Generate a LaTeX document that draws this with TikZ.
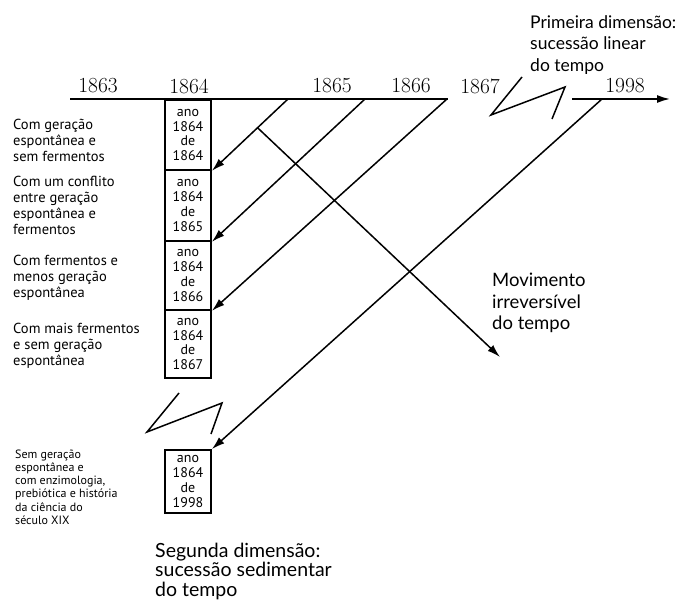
\documentclass[tikz,border=0pt]{standalone}
\usepackage{fontspec}
\newfontfamily\notefont{PT Sans}
\newfontfamily\dimfont{Lato}
\usetikzlibrary{arrows.meta,calc}
\tikzset{
    ano/.style={draw,line width=1.7pt,minimum width=46pt,inner sep=0pt,align=center,font=\notefont\fontsize{14}{14.7}\selectfont},
    nota/.style={anchor=west,align=left,inner sep=0pt,font=\notefont\fontsize{14.5}{16}\selectfont},
    dim/.style={anchor=west,align=left,inner sep=0pt,font=\dimfont\fontsize{17.5}{21.5}\selectfont},
    seta/.style={line width=1.5pt,-{Latex[length=13pt,width=8pt]}},
    zig/.style={line width=1.5pt,line join=miter},
}
\begin{document}
\begin{tikzpicture}[x=1pt,y=-1pt]
    \useasboundingbox (0,0) rectangle (693,601);
    % linha do tempo
    \draw[line width=2.4pt] (70,99) -- (448,99);
    \draw[seta,line width=1.7pt] (572,99) -- (670,99);
    \foreach \a/\x in {1863/98,1864/189,1865/332,1866/411,1867/480,1998/625} {
        \node[font=\fontsize{21.5}{22}\selectfont] (y\a) at (\x,86) {\a};
    }
    \coordinate (t1) at (288,99);
    \coordinate (t2) at (365,99);
    \coordinate (t3) at (447,99);
    \coordinate (t4) at (602,99);
    % caixas
    \node[ano,minimum height=70pt] (b1) at (188,135) {ano\\1864\\de\\1864};
    \node[ano,minimum height=71pt] (b2) at (188,205.5) {ano\\1864\\de\\1865};
    \node[ano,minimum height=69pt] (b3) at (188,275.5) {ano\\1864\\de\\1866};
    \node[ano,minimum height=68pt] (b4) at (188,344) {ano\\1864\\de\\1867};
    \node[ano,minimum height=63pt] (b5) at (188,481.5) {ano\\1864\\de\\1998};
    % setas
    \draw[seta] (t1) -- (b1.south east);
    \draw[seta] (t2) -- (b2.south east);
    \draw[seta] (t3) -- (b3.south east);
    \draw[seta] (t4) -- (b5.north east);
    \coordinate (m) at ($(t1)!0.4!(b1.south east)$);
    \coordinate (mf) at (500,357);
    \draw[seta] (m) -- (mf);
    % cortes
    \draw[zig] (522,77) -- (491,115) -- (565,87) -- (552,119);
    \draw[zig] (179,393) -- (147,432) -- (222,403) -- (211,434);
    % textos
    \node[nota] (n1) at (13,140) {Com geração\\espontânea e\\sem fermentos};
    \node[nota] (n2) at (13,205) {Com um conflito\\entre geração\\espontânea e\\fermentos};
    \node[nota] (n3) at (13,278) {Com fermentos e\\menos geração\\espontânea};
    \node[nota] (n4) at (13,346) {Com mais fermentos\\e sem geração\\espontânea};
    \node[nota,font=\notefont\fontsize{12}{13.2}\selectfont] (n5) at (15,487) {Sem geração\\espontânea e\\com enzimologia,\\prebiótica e história\\da ciência do\\século XIX};
    \node[dim] (d1) at (530,45) {Primeira dimensão:\\sucessão linear\\do tempo};
    \node[dim,font=\dimfont\fontsize{18.5}{21.5}\selectfont] (d2) at (492,303) {Movimento\\irreversível\\do tempo};
    \node[dim,font=\dimfont\fontsize{19.5}{19.5}\selectfont] (d3) at (155,571) {Segunda dimensão:\\sucessão sedimentar\\do tempo};
\end{tikzpicture}
\end{document}
